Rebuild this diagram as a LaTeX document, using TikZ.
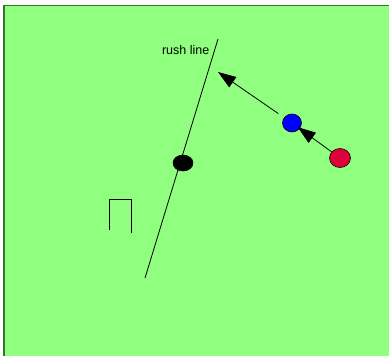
\documentclass[tikz,border=0pt]{standalone}
\usepackage{fontspec}
\setmainfont{Liberation Sans}
\usepackage{tikz}
\usetikzlibrary{shapes.geometric, arrows.meta, positioning}
\definecolor{fieldcolor}{HTML}{90FF7F}
\definecolor{edgecolor}{HTML}{3F7035}
\definecolor{bluecolor}{HTML}{0000FF}
\definecolor{redcolor}{HTML}{E0003A}

\begin{document}
\begin{tikzpicture}[x=1pt, y=-1pt,
  player/.style={ellipse, draw=black, line width=0.6pt, inner sep=0pt},
  move/.style={-{Triangle[length=18pt, width=12.5pt]}, line width=0.8pt},
  stroke/.style={line width=0.8pt}]

  % Field
  \useasboundingbox (0,0) rectangle (389,356);
  \fill[fieldcolor] (4,5.5) rectangle (389,356);
  \draw[edgecolor, line width=1.2pt] (4,356) -- (4,5.5) -- (389,5.5);

  % Rush line
  \coordinate (R1) at (218,39);
  \coordinate (R2) at (145,278);
  \draw[stroke] (R1) -- (R2);
  \node[font=\fontsize{12.5}{14}\selectfont, anchor=east, inner sep=0pt] (label) at (209.5,50) {rush line};

  % Players
  \node[player, fill=black, minimum width=20pt, minimum height=16pt] (B) at (183,163) {};
  \node[player, fill=bluecolor, minimum width=19pt, minimum height=18pt] (U) at (292,123) {};
  \node[player, fill=redcolor, minimum width=21pt, minimum height=19pt] (D) at (340,158) {};

  % Moves
  \coordinate (T) at (218,72);
  \draw[move, shorten <=7pt] (U) -- (T);
  \draw[move, shorten >=-2.5pt] (D) -- (U);

  % Hoop
  \draw[stroke] (109,230) -- (109,199) -- (131,199) -- (131,233);

\end{tikzpicture}
\end{document}
